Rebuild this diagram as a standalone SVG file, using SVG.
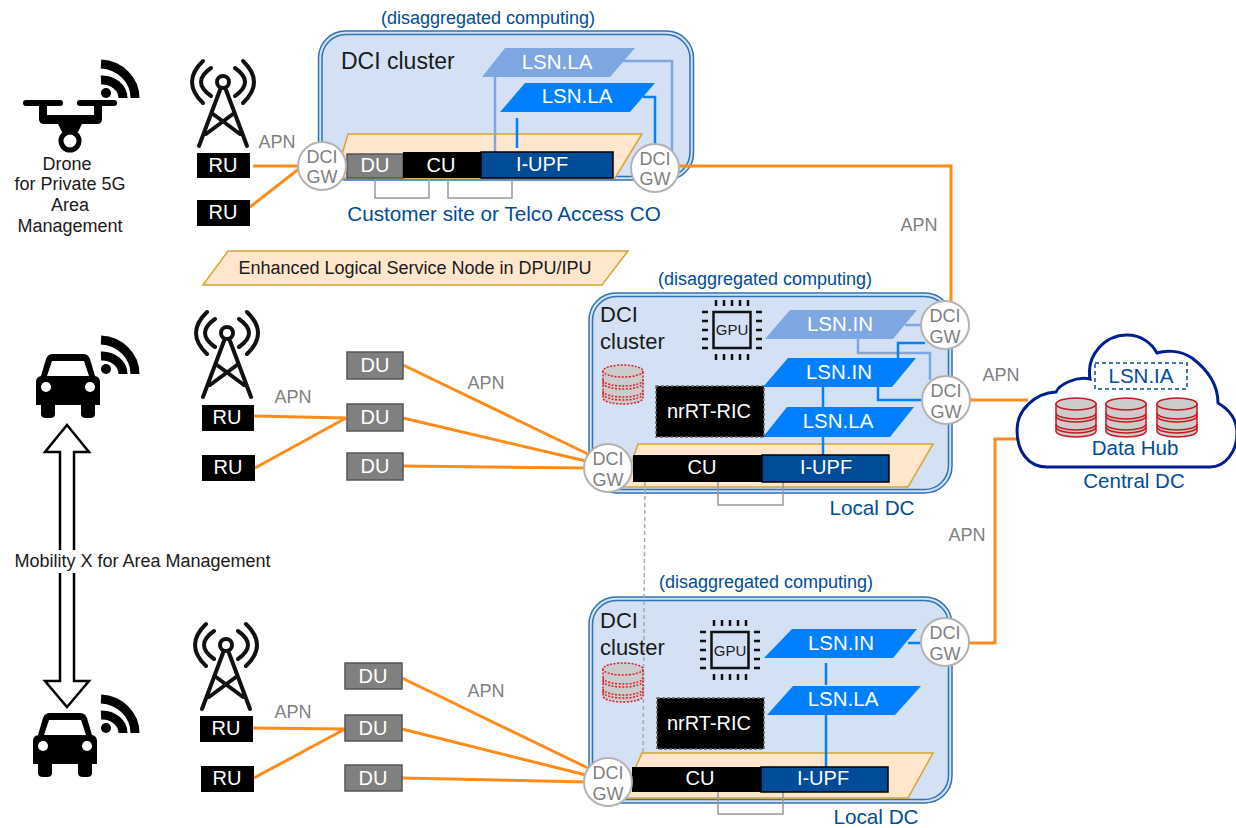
<svg xmlns="http://www.w3.org/2000/svg" width="1236" height="828" viewBox="0 0 1236 828">
<style>
text{font-family:"Liberation Sans",Arial,sans-serif;font-size:20px;text-anchor:middle}
.s18{font-size:18px}
.s21{font-size:20.700px}
.lbl{font-size:20.500px}
.gray{fill:#808080}
.blue{fill:#004c99}
.dark{fill:#1a1a1a}
.w{fill:#fff}
.st{text-anchor:start}
.cl{fill:#d4e1f5;stroke:#2f72b5;stroke-width:1.5}
.cl2{fill:none;stroke:#2f72b5;stroke-width:1.5}
.peach{fill:#ffe6cc;stroke:#d8a530;stroke-width:1.5}
.lsn{fill:#007fff}
.lsnl{fill:#7ea6e0}
.bk{fill:#000}
.navy{fill:#004c99;stroke:#000;stroke-width:1.5}
.du{fill:#808080;stroke:#555;stroke-width:1.5}
.ric{fill:#000;stroke:#666;stroke-width:1.5;stroke-dasharray:3 2}
.gw{fill:#fff;stroke:#b3b3b3;stroke-width:2}
.or{fill:none;stroke:#ff8c1a;stroke-width:3}
.cb{fill:none;stroke:#007fff;stroke-width:2.5}
.cbl{fill:none;stroke:#7ea6e0;stroke-width:2.5}
.br{fill:none;stroke:#999;stroke-width:1.5}
.ic{fill:none;stroke:#111;stroke-width:4;stroke-linecap:round}
.pin{fill:none;stroke:#111;stroke-width:2.5}
.cy{fill:#ccc;stroke:#c8171e;stroke-width:1.5}
.cyl{fill:none;stroke:#c8171e;stroke-width:1.5}
.cyd{fill:#ccc;stroke:#d8202a;stroke-width:1.5;stroke-dasharray:2 1.5}
.cydl{fill:none;stroke:#d8202a;stroke-width:1.5;stroke-dasharray:2 1.5}
</style>
<defs>
<g id="tower"><circle r="6" class="ic"/><path class="ic" d="M-3 8L-24 64M3 8L24 64M-10 32L17 52M10 32L-17 52M-12 -14Q-32 0 -12 14M12 -14Q32 0 12 14M-20 -21Q-42 0 -20 21M20 -21Q42 0 20 21"/></g>
<g id="wifi"><path d="M0 -34A36 34 0 0 1 34 0" fill="none" stroke="#000" stroke-width="9"/><path d="M0 -18A21 18 0 0 1 22 0" fill="none" stroke="#000" stroke-width="9"/><circle cx="5" cy="-5" r="5"/></g>
<g id="car"><path d="M17 0H47Q52 0 54 5L59 22Q64 23 64 28V51H59V60Q59 64 54 64H50Q45 64 45 60V51H19V60Q19 64 14 64H10Q5 64 5 60V51H0V28Q0 23 5 22L10 5Q12 0 17 0Z"/><path d="M16 7H48L53 22H11Z" fill="#fff"/><circle cx="10" cy="33" r="5" fill="#fff"/><circle cx="54" cy="33" r="5" fill="#fff"/></g>
<g id="gpu"><rect x="-18.500" y="-18" width="37" height="36" fill="none" stroke="#111" stroke-width="2.500"/><path class="pin" d="M-16 -30V-24M-8 -30V-24M0 -30V-24M8 -30V-24M16 -30V-24M-16 24V30M-8 24V30M0 24V30M8 24V30M16 24V30M-30 -18H-24M-30 -9H-24M-30 0H-24M-30 9H-24M-30 18H-24M24 -18H30M24 -9H30M24 0H30M24 9H30M24 18H30"/></g>
<g id="db"><path class="cy" d="M0 6V33A20 6 0 0 0 40 33V6Z"/><ellipse class="cy" cx="20" cy="6" rx="20" ry="6"/><path class="cyl" d="M0 15A20 6 0 0 0 40 15M0 18A20 6 0 0 0 40 18M0 26A20 6 0 0 0 40 26M0 29A20 6 0 0 0 40 29"/></g>
<g id="dbd"><path class="cyd" d="M0 6V33A20 6 0 0 0 40 33V6Z"/><ellipse class="cyd" cx="20" cy="6" rx="20" ry="6"/><path class="cydl" d="M0 15A20 6 0 0 0 40 15M0 18A20 6 0 0 0 40 18M0 26A20 6 0 0 0 40 26M0 29A20 6 0 0 0 40 29"/></g>
</defs>

<g id="cluster-top-bg"><rect class="cl" x="318.500" y="31" width="375" height="149" rx="27"/><rect class="cl2" x="322" y="34.500" width="368" height="142" rx="24"/><polygon class="peach" points="348,134 642,134 615,178 335,178"/></g>
<g id="cluster-mid-bg"><rect class="cl" x="589" y="293" width="363" height="200" rx="27"/><rect class="cl2" x="592.500" y="296.500" width="356" height="193" rx="24"/><polygon class="peach" points="638,444 933,444 908,487 623,487"/></g>
<g id="cluster-bot-bg"><rect class="cl" x="589" y="597" width="363" height="206" rx="27"/><rect class="cl2" x="592.500" y="600.500" width="356" height="199" rx="24"/><polygon class="peach" points="642,753 933,753 908,798 622,798"/></g>

<g id="connectors">
<path class="or" d="M253 166H300M250 207L300 168"/>
<path class="or" d="M254 416L346 418M255 468L346 418M403 365L592 456M403 418L590 462M403 466L588 468"/>
<path class="or" d="M253 728L345 729M254 778L345 729M402 678L592 770M402 729L590 776M402 778L588 782"/>
<path class="or" d="M675 166H951V305M965 400H1028M960 643H995V439H1018"/>
<path class="cbl" d="M495 77V152M623 61H672V155M905 325H925M858 339V353H930V380"/>
<path class="cb" d="M517 118V148M643 97H655V146M898 358V343H925M878 387V400H925M823 387V407M823 437V455M826 663V685M826 715V767M908 643H925"/>
<path class="br" d="M375 179V198H429V179M448 179V198H512V179M718 482V505H783V482M718 792V814H783V792"/>
<path d="M645 482L643 755" fill="none" stroke="#aaa" stroke-width="1.500" stroke-dasharray="4 3"/>
</g>

<g id="drone">
<path d="M26 103H60M80 103H114" stroke="#000" stroke-width="6" stroke-linecap="round" fill="none"/>
<path d="M39 103H47V115H94V103H102V119Q102 124 97 124H82L78 132H62L58 124H44Q39 124 39 119Z"/>
<circle cx="70" cy="141" r="9" fill="#fff" stroke="#000" stroke-width="5"/>
<use href="#wifi" x="101" y="98"/>
<text class="s18 dark" x="67" y="170">Drone</text><text class="s18 dark" x="70" y="190">for Private 5G</text><text class="s18 dark" x="70" y="211">Area</text><text class="s18 dark" x="70" y="232">Management</text>
</g>
<g id="car-1"><use href="#car" x="36" y="354"/><use href="#wifi" x="101" y="374"/></g>
<g id="car-2"><use href="#car" x="33" y="713"/><use href="#wifi" x="101" y="733"/></g>
<g id="mobility"><polygon points="67,425 89,452 74,452 74,681 89,681 67,707 45,681 60,681 60,452 45,452" fill="#fff" stroke="#000" stroke-width="2.500"/><rect x="10" y="550" width="265" height="23" fill="#fff"/><text class="s18 dark" x="142.500" y="567">Mobility X for Area Management</text></g>

<g id="towers"><use href="#tower" x="223" y="82"/><use href="#tower" x="227" y="333"/><use href="#tower" x="226" y="645"/></g>
<g id="ru-1"><rect class="bk" x="197" y="153" width="53" height="25"/><text class="w" x="223" y="172">RU</text></g>
<g id="ru-2"><rect class="bk" x="197" y="200" width="53" height="26"/><text class="w" x="223" y="219">RU</text></g>
<g id="ru-3"><rect class="bk" x="202" y="405" width="52" height="26"/><text class="w" x="227" y="424">RU</text></g>
<g id="ru-4"><rect class="bk" x="202" y="455" width="53" height="26"/><text class="w" x="228" y="474">RU</text></g>
<g id="ru-5"><rect class="bk" x="200" y="716" width="53" height="26"/><text class="w" x="226" y="735">RU</text></g>
<g id="ru-6"><rect class="bk" x="201" y="766" width="53" height="26"/><text class="w" x="227" y="785">RU</text></g>

<g id="du-1"><rect class="du" x="347" y="352" width="56" height="27"/><text class="w" x="375" y="372">DU</text></g>
<g id="du-2"><rect class="du" x="347" y="404" width="56" height="27"/><text class="w" x="375" y="424">DU</text></g>
<g id="du-3"><rect class="du" x="347" y="453" width="56" height="27"/><text class="w" x="375" y="473">DU</text></g>
<g id="du-4"><rect class="du" x="345" y="663" width="57" height="26"/><text class="w" x="373" y="683">DU</text></g>
<g id="du-5"><rect class="du" x="345" y="715" width="57" height="26"/><text class="w" x="373" y="735">DU</text></g>
<g id="du-6"><rect class="du" x="345" y="765" width="57" height="26"/><text class="w" x="373" y="785">DU</text></g>

<g id="legend"><polygon class="peach" points="228,251 628,251 602,285 203,285"/><text class="s18 dark" x="415" y="274">Enhanced Logical Service Node in DPU/IPU</text></g>

<g id="top-stack">
<text class="blue s18" x="488" y="24">(disaggregated computing)</text>
<text class="dark st" style="font-size:23px" x="341" y="69">DCI cluster</text>
<polygon class="lsnl" points="482,77 505,48 635,48 610,77"/><text class="w lbl" x="557" y="69">LSN.LA</text>
<polygon class="lsn" points="500,112 525,83 655,83 630,112"/><text class="w lbl" x="577" y="103">LSN.LA</text>
<rect class="du" x="347" y="154" width="56" height="24"/><text class="w" x="375" y="172">DU</text>
<rect class="bk" x="403" y="152" width="78" height="26"/><text class="w" x="441" y="172">CU</text>
<rect class="navy" x="481" y="152" width="132" height="26"/><text class="w" x="542" y="171">I-UPF</text>
<text class="blue s21" x="504" y="221">Customer site or Telco Access CO</text>
</g>

<g id="mid-stack">
<text class="blue s18" x="765" y="285">(disaggregated computing)</text>
<text class="dark st" style="font-size:22px" x="600" y="322">DCI</text><text class="dark st" style="font-size:22px" x="600" y="349">cluster</text>
<use href="#gpu" x="732" y="330"/><text class="dark" style="font-size:15px" x="732" y="335">GPU</text>
<use href="#dbd" x="603" y="365"/>
<polygon class="lsnl" points="765,339 790,310 917,310 893,339"/><text class="w lbl" x="840" y="331">LSN.IN</text>
<polygon class="lsn" points="763,387 788,358 916,358 892,387"/><text class="w lbl" x="839" y="379">LSN.IN</text>
<polygon class="lsn" points="763,437 787,407 914,407 890,437"/><text class="w lbl" x="838" y="428">LSN.LA</text>
<rect class="ric" x="656" y="386" width="108" height="51"/><text class="w" x="709" y="418">nrRT-RIC</text>
<rect class="bk" x="633" y="455" width="130" height="27"/><text class="w" x="702" y="474">CU</text>
<rect class="navy" x="762" y="455" width="127" height="27"/><text class="w" x="826" y="474">I-UPF</text>
<text class="blue s21" x="872" y="515">Local DC</text>
</g>

<g id="bot-stack">
<text class="blue s18" x="766" y="588">(disaggregated computing)</text>
<text class="dark st" style="font-size:22px" x="600" y="628">DCI</text><text class="dark st" style="font-size:22px" x="600" y="655">cluster</text>
<use href="#gpu" x="730" y="650"/><text class="dark" style="font-size:15px" x="730" y="656">GPU</text>
<use href="#dbd" x="603" y="663"/>
<polygon class="lsn" points="764,658 792,629 917,629 893,658"/><text class="w lbl" x="841" y="650">LSN.IN</text>
<polygon class="lsn" points="767,715 793,686 921,686 895,715"/><text class="w lbl" x="843" y="706">LSN.LA</text>
<rect class="ric" x="657" y="698" width="107" height="51"/><text class="w" x="709" y="730">nrRT-RIC</text>
<rect class="bk" x="632" y="767" width="130" height="25"/><text class="w" x="700" y="785">CU</text>
<rect class="navy" x="761" y="767" width="127" height="25"/><text class="w" x="823" y="785">I-UPF</text>
<text class="blue s21" x="876" y="824">Local DC</text>
</g>

<g id="gw-1"><circle class="gw" cx="322" cy="166" r="24"/><text class="gray s18" x="322" y="163">DCI</text><text class="gray s18" x="322" y="183">GW</text></g>
<g id="gw-2"><circle class="gw" cx="655" cy="168" r="24"/><text class="gray s18" x="655" y="165">DCI</text><text class="gray s18" x="655" y="185">GW</text></g>
<g id="gw-3"><circle class="gw" cx="608" cy="468" r="24"/><text class="gray s18" x="608" y="465">DCI</text><text class="gray s18" x="608" y="486">GW</text></g>
<g id="gw-4"><circle class="gw" cx="945" cy="325" r="24"/><text class="gray s18" x="945" y="322">DCI</text><text class="gray s18" x="945" y="343">GW</text></g>
<g id="gw-5"><circle class="gw" cx="946" cy="400" r="24"/><text class="gray s18" x="946" y="397">DCI</text><text class="gray s18" x="946" y="418">GW</text></g>
<g id="gw-6"><circle class="gw" cx="945" cy="642" r="24"/><text class="gray s18" x="945" y="639">DCI</text><text class="gray s18" x="945" y="660">GW</text></g>
<g id="gw-7"><circle class="gw" cx="608" cy="782" r="24"/><text class="gray s18" x="608" y="779">DCI</text><text class="gray s18" x="608" y="800">GW</text></g>

<g id="central-dc">
<path d="M1047 467C1027 467 1017 450 1017 430C1017 410 1035 393 1056 392C1059 385 1075 376 1090 379C1086 355 1105 335 1127 335C1142 335 1152 344 1157 353C1165 350 1180 350 1192 358C1208 370 1218 385 1218 403C1230 410 1237 420 1237 433C1237 452 1225 467 1210 467Z" fill="#fff" stroke="#001f8f" stroke-width="3"/>
<rect x="1095" y="363" width="92" height="26" fill="none" stroke="#004c99" stroke-width="1.500" stroke-dasharray="4 3"/><text class="blue lbl" x="1141" y="383">LSN.IA</text>
<use href="#db" x="1056" y="398"/><use href="#db" x="1106" y="398"/><use href="#db" x="1157" y="398"/>
<text class="blue lbl" x="1135" y="455">Data Hub</text>
<text class="blue lbl" x="1134" y="488">Central DC</text>
</g>

<g id="apn-labels">
<text class="gray s18" x="277" y="148">APN</text><text class="gray s18" x="293" y="403">APN</text><text class="gray s18" x="486" y="389">APN</text>
<text class="gray s18" x="293" y="718">APN</text><text class="gray s18" x="486" y="697">APN</text><text class="gray s18" x="919" y="231">APN</text>
<text class="gray s18" x="1001" y="381">APN</text><text class="gray s18" x="967" y="541">APN</text>
</g>
</svg>
